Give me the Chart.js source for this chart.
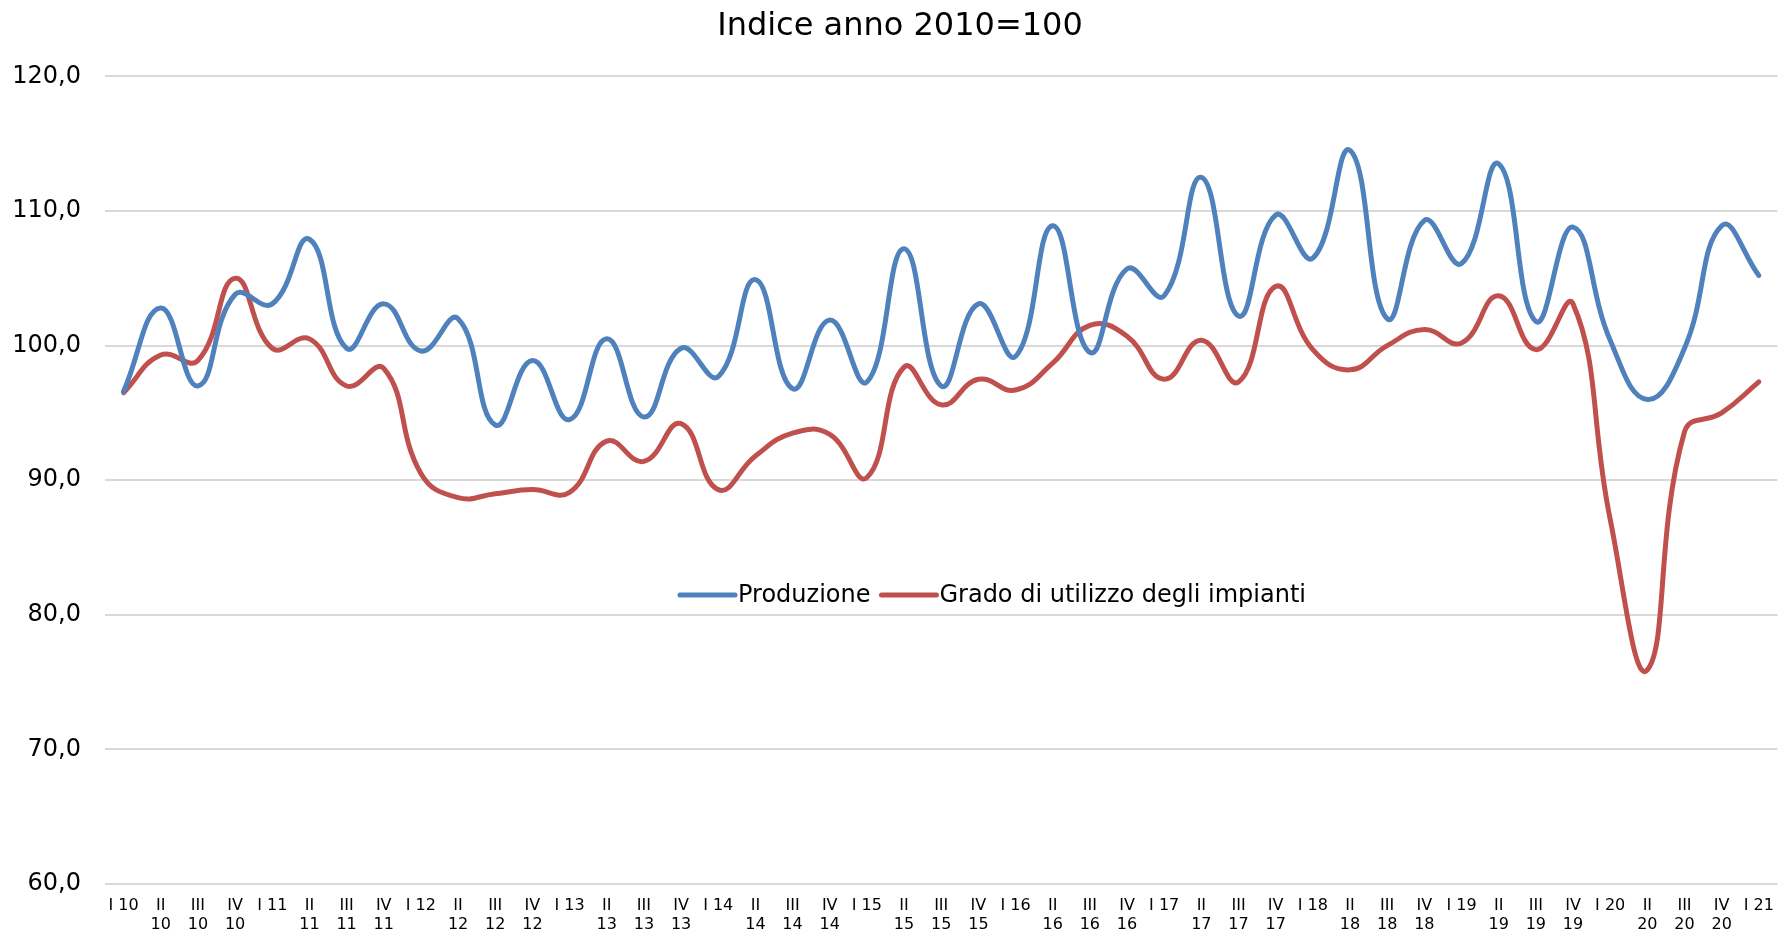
<!DOCTYPE html>
<html>
<head>
<meta charset="utf-8">
<script src="https://cdn.jsdelivr.net/npm/chart.js@4.4.1/dist/chart.umd.min.js"></script>
<style>
  html, body { margin: 0; padding: 0; background: #fff; }
  #wrap { width: 1787px; height: 936px; position: relative; }
</style>
</head>
<body>
<div id="wrap"><canvas id="myChart"></canvas></div>
<script>
const quarters = [
    'I 10', ['II', '10'], ['III', '10'], ['IV', '10'],
    'I 11', ['II', '11'], ['III', '11'], ['IV', '11'],
    'I 12', ['II', '12'], ['III', '12'], ['IV', '12'],
    'I 13', ['II', '13'], ['III', '13'], ['IV', '13'],
    'I 14', ['II', '14'], ['III', '14'], ['IV', '14'],
    'I 15', ['II', '15'], ['III', '15'], ['IV', '15'],
    'I 16', ['II', '16'], ['III', '16'], ['IV', '16'],
    'I 17', ['II', '17'], ['III', '17'], ['IV', '17'],
    'I 18', ['II', '18'], ['III', '18'], ['IV', '18'],
    'I 19', ['II', '19'], ['III', '19'], ['IV', '19'],
    'I 20', ['II', '20'], ['III', '20'], ['IV', '20'],
    'I 21'
];

const produzione = [
    96.6, 102.8, 97.0, 103.8, 103.1, 107.9, 99.8, 103.1, 99.6, 102.0,
    94.1, 98.9, 94.5, 100.5, 94.7, 99.8, 97.7, 104.9, 96.8, 101.9,
    97.3, 107.2, 97.0, 103.1, 99.2, 108.9, 99.5, 105.7, 103.7, 112.5,
    102.2, 109.7, 106.5, 114.5, 102.0, 109.3, 106.1, 113.5, 101.8, 108.8,
    100.4, 96.0, 99.8, 108.9, 105.2
];

const utilizzo = [
    96.5, 99.3, 98.9, 105.0, 99.8, 100.5, 97.0, 98.3, 90.5, 88.7,
    89.0, 89.3, 89.1, 92.9, 91.4, 94.2, 89.3, 91.8, 93.5, 93.4,
    90.2, 98.4, 95.6, 97.5, 96.7, 98.7, 101.5, 100.7, 97.5, 100.4,
    97.3, 104.4, 99.7, 98.2, 100.0, 101.2, 100.2, 103.7, 99.7, 103.1,
    87.1, 75.9, 93.6, 95.0, 97.3
];

const seriesNames = ['Produzione', 'Grado di utilizzo degli impianti'];
const yTicks = [60, 70, 80, 90, 100, 110, 120];

const FONT = "'DejaVu Sans', Verdana, sans-serif";
const BLUE = '#4F81BD';
const RED = '#C0504D';

// legend sits inside the plot, Excel style
const innerLegend = {
    id: 'innerLegend',
    afterLayout(chart) {
        // nudge the title a little to the right, as in the original
        if (chart.titleBlock) chart.titleBlock.left += 20;
    },
    afterDatasetsDraw(chart) {
        const { ctx, chartArea } = chart;
        const y = chartArea.top + (chartArea.bottom - chartArea.top) * 0.642;
        ctx.save();
        ctx.font = '24px ' + FONT;
        ctx.textBaseline = 'middle';
        const lineLen = 55, gap = 3, itemGap = 11;
        const items = chart.data.datasets.map(ds => ({
            color: ds.borderColor,
            text: ds.label,
            w: lineLen + gap + ctx.measureText(ds.label).width
        }));
        const total = items.reduce((s, it) => s + it.w, 0) + itemGap * (items.length - 1);
        let x = 993 - total / 2;
        items.forEach(it => {
            ctx.strokeStyle = it.color;
            ctx.lineWidth = 5;
            ctx.lineCap = 'round';
            ctx.beginPath();
            ctx.moveTo(x, y);
            ctx.lineTo(x + lineLen, y);
            ctx.stroke();
            ctx.fillStyle = '#000';
            ctx.fillText(it.text, x + lineLen + gap, y + 1);
            x += it.w + itemGap;
        });
        ctx.restore();
    }
};

const data = {
    labels: quarters,
    datasets: [
        {
            label: seriesNames[0],
            data: produzione,
            borderColor: BLUE,
            backgroundColor: BLUE,
            borderWidth: 5,
            pointRadius: 0,
            tension: 0.45,
            borderCapStyle: 'round'
        },
        {
            label: seriesNames[1],
            data: utilizzo,
            borderColor: RED,
            backgroundColor: RED,
            borderWidth: 5,
            pointRadius: 0,
            tension: 0.45,
            borderCapStyle: 'round'
        }
    ]
};

const config = {
    type: 'line',
    data,
    options: {
        responsive: false,
        animation: false,
        layout: { padding: { left: 0, right: 7, top: 0, bottom: 0 } },
        plugins: {
            legend: { display: false },
            tooltip: { enabled: false },
            title: {
                display: true,
                text: 'Indice anno 2010=100',
                color: '#000',
                font: { family: FONT, size: 32, weight: 'normal' },
                padding: { top: 7, bottom: 31 }
            }
        },
        scales: {
            x: {
                offset: true,
                grid: { display: false, drawTicks: false },
                border: { display: false },
                ticks: {
                    color: '#000',
                    font: { family: FONT, size: 16, lineHeight: 1.15 },
                    padding: 13,
                    maxRotation: 0,
                    autoSkip: false
                },
                afterFit(scale) { scale.height = 52; }
            },
            y: {
                min: yTicks[0],
                max: yTicks[yTicks.length - 1],
                afterBuildTicks(scale) {
                    scale.ticks = yTicks.map(v => ({ value: v }));
                },
                grid: { color: '#D9D9D9', lineWidth: 2, drawTicks: false },
                border: { display: false },
                ticks: {
                    color: '#000',
                    font: { family: FONT, size: 24 },
                    padding: 24,
                    callback: v => v.toFixed(1).replace('.', ',')
                },
                afterFit(scale) { scale.width = 105; }
            }
        }
    },
    plugins: [innerLegend]
};

const canvas = document.getElementById('myChart');
canvas.width = 1787;
canvas.height = 936;
new Chart(canvas.getContext('2d'), config);
</script>
</body>
</html>
